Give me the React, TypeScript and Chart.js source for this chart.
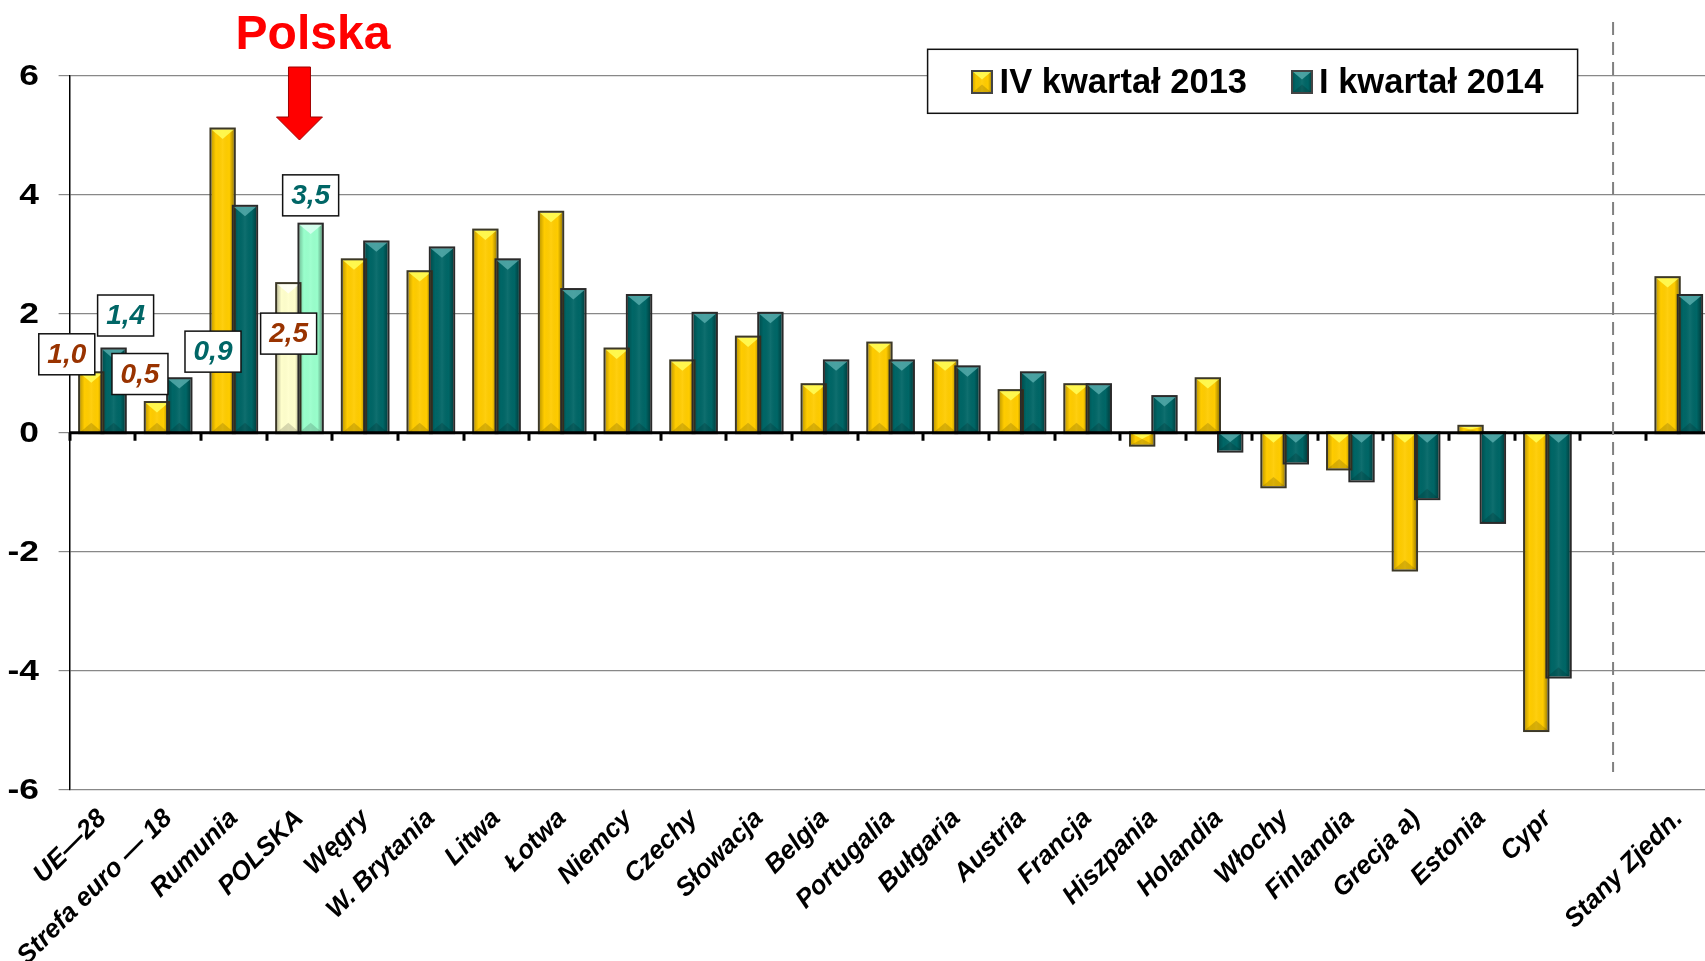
import React, { useEffect, useRef } from 'react';
import { Chart, registerables } from 'chart.js';

Chart.register(...registerables);

const categories = [
  'UE—28', 'Strefa euro — 18', 'Rumunia', 'POLSKA', 'Węgry', 'W. Brytania', 'Litwa', 'Łotwa',
  'Niemcy', 'Czechy', 'Słowacja', 'Belgia', 'Portugalia', 'Bułgaria', 'Austria', 'Francja',
  'Hiszpania', 'Holandia', 'Włochy', 'Finlandia', 'Grecja a)', 'Estonia', 'Cypr', '', 'Stany Zjedn.',
];
const q4_2013 = [1.0, 0.5, 5.1, 2.5, 2.9, 2.7, 3.4, 3.7, 1.4, 1.2, 1.6, 0.8, 1.5, 1.2, 0.7, 0.8, -0.2, 0.9, -0.9, -0.6, -2.3, 0.1, -5.0, null, 2.6];
const q1_2014 = [1.4, 0.9, 3.8, 3.5, 3.2, 3.1, 2.9, 2.4, 2.3, 2.0, 2.0, 1.2, 1.2, 1.1, 1.0, 0.8, 0.6, -0.3, -0.5, -0.8, -1.1, -1.5, -4.1, null, 2.3];
const seriesLabels = ['IV kwartał 2013', 'I kwartał 2014'];
const yMin = -6;
const yMax = 6;
const yStep = 2;
const highlightIndex = 3;
const separatorIndex = 23;
const calloutText = 'Polska';

// which bars get a boxed value label, and where the box sits relative to the bar end
const valueCallouts = [
  { series: 0, index: 0, dx: -24.5, dy: -19 },
  { series: 1, index: 0, dx: 12, dy: -34 },
  { series: 0, index: 1, dx: -17, dy: -29 },
  { series: 1, index: 1, dx: 33.7, dy: -27.6 },
  { series: 0, index: 3, dx: 0.3, dy: 49.5 },
  { series: 1, index: 3, dx: 0, dy: -29.3 },
];

const FONT = '"Liberation Sans", Arial, Helvetica, sans-serif';
const baseColors = ['#FFCC00', '#006666'];
const highlightColors = ['#FFFFCC', '#99FFCC'];
const bevelTop = ['rgba(255,255,90,0.85)', 'rgba(90,175,175,0.8)'];
const bevelTopLight = ['rgba(255,255,255,0.75)', 'rgba(225,255,245,0.8)'];
const labelTextColors = ['#993300', '#006666'];
const borderColors = ['#3c3826', '#2a2a2a'];

function bevel(ctx: CanvasRenderingContext2D, l: number, t: number, w: number, h: number, top: string) {
  if (w <= 0 || h <= 0) return;
  ctx.save();
  const g = ctx.createLinearGradient(l, 0, l + w, 0);
  g.addColorStop(0, 'rgba(0,0,0,0.22)');
  g.addColorStop(0.2, 'rgba(0,0,0,0)');
  g.addColorStop(0.5, 'rgba(255,255,255,0.06)');
  g.addColorStop(0.8, 'rgba(0,0,0,0)');
  g.addColorStop(1, 'rgba(0,0,0,0.35)');
  ctx.fillStyle = g;
  ctx.fillRect(l, t, w, h);
  const d = Math.min(w * 0.42, h / 2);
  ctx.fillStyle = top;
  ctx.beginPath();
  ctx.moveTo(l, t); ctx.lineTo(l + w, t); ctx.lineTo(l + w / 2, t + d); ctx.closePath();
  ctx.fill();
  ctx.fillStyle = 'rgba(0,0,0,0.15)';
  ctx.beginPath();
  ctx.moveTo(l, t + h); ctx.lineTo(l + w, t + h); ctx.lineTo(l + w / 2, t + h - d); ctx.closePath();
  ctx.fill();
  ctx.restore();
}

const fmt = (v: number) => v.toFixed(1).replace('.', ',');

const decorPlugin = {
  id: 'decor',
  afterDatasetsDraw(chart: any) {
    const ctx: CanvasRenderingContext2D = chart.ctx;
    const xs = chart.scales.x;
    const ys = chart.scales.y;
    const area = chart.chartArea;
    const cw = xs.width / categories.length;

    // bevel overlays and outer borders on bars
    chart.data.datasets.forEach((ds: any, di: number) => {
      const meta = chart.getDatasetMeta(di);
      meta.data.forEach((el: any, i: number) => {
        const v = ds.data[i];
        if (v == null) return;
        const p = el.getProps(['x', 'y', 'base', 'width'], true);
        const top = Math.min(p.y, p.base);
        const h = Math.abs(p.base - p.y);
        const l = p.x - p.width / 2;
        bevel(ctx, l, top, p.width, h, i === highlightIndex ? bevelTopLight[di] : bevelTop[di]);
        ctx.save();
        ctx.strokeStyle = borderColors[di];
        ctx.lineWidth = 2;
        ctx.strokeRect(l - 1, top - 1, p.width + 2, h + 2);
        ctx.restore();
      });
    });

    ctx.save();
    // zero line
    const y0 = ys.getPixelForValue(0);
    ctx.strokeStyle = '#000';
    ctx.lineWidth = 3;
    ctx.beginPath();
    ctx.moveTo(area.left, y0);
    ctx.lineTo(area.right, y0);
    ctx.stroke();
    // category tick marks
    for (let i = 0; i <= categories.length; i++) {
      const bx = Math.round(xs.getPixelForValue(i) - cw / 2);
      ctx.beginPath();
      ctx.moveTo(bx, y0);
      ctx.lineTo(bx, y0 + 8);
      ctx.stroke();
    }

    // y tick labels (slightly wide bold digits)
    ctx.fillStyle = '#000';
    ctx.font = `bold 29px ${FONT}`;
    ctx.textAlign = 'right';
    ctx.textBaseline = 'middle';
    ys.ticks.forEach((t: any) => {
      const ty = ys.getPixelForValue(t.value);
      ctx.save();
      ctx.translate(39, ty + 1);
      ctx.scale(1.22, 1);
      ctx.fillText(String(t.value), 0, 0);
      ctx.restore();
    });

    // dashed separator
    const sx = xs.getPixelForValue(separatorIndex);
    ctx.strokeStyle = '#808080';
    ctx.lineWidth = 2;
    ctx.setLineDash([13, 7]);
    ctx.beginPath();
    ctx.moveTo(sx, 22);
    ctx.lineTo(sx, 772);
    ctx.stroke();
    ctx.setLineDash([]);

    // boxed value labels
    valueCallouts.forEach((c) => {
      const el = chart.getDatasetMeta(c.series).data[c.index];
      const v = chart.data.datasets[c.series].data[c.index];
      if (!el || v == null) return;
      const cx = el.x + c.dx;
      const cy = el.y + c.dy;
      const bw = 56, bh = 41;
      ctx.fillStyle = '#fff';
      ctx.fillRect(cx - bw / 2, cy - bh / 2, bw, bh);
      ctx.strokeStyle = '#111';
      ctx.lineWidth = 1.5;
      ctx.strokeRect(cx - bw / 2, cy - bh / 2, bw, bh);
      ctx.fillStyle = labelTextColors[c.series];
      ctx.font = `italic bold 28px ${FONT}`;
      ctx.textAlign = 'center';
      ctx.textBaseline = 'middle';
      ctx.fillText(fmt(v), cx, cy + 1);
    });

    // "Polska" callout with arrow
    const px = xs.getPixelForValue(highlightIndex);
    ctx.fillStyle = '#FF0000';
    ctx.font = `bold 48px ${FONT}`;
    ctx.textAlign = 'center';
    ctx.textBaseline = 'alphabetic';
    ctx.fillText(calloutText, px + 13.5, 49);
    ctx.beginPath();
    ctx.moveTo(px - 11, 67);
    ctx.lineTo(px + 11, 67);
    ctx.lineTo(px + 11, 117);
    ctx.lineTo(px + 23, 117);
    ctx.lineTo(px, 140);
    ctx.lineTo(px - 23, 117);
    ctx.lineTo(px - 11, 117);
    ctx.closePath();
    ctx.fillStyle = '#FF0000';
    ctx.fill();
    ctx.strokeStyle = '#A00000';
    ctx.lineWidth = 1;
    ctx.stroke();

    // legend
    const lx = 927.6, ly = 49.3, lw = 650, lh = 64;
    ctx.fillStyle = '#fff';
    ctx.fillRect(lx, ly, lw, lh);
    ctx.strokeStyle = '#111';
    ctx.lineWidth = 1.5;
    ctx.strokeRect(lx, ly, lw, lh);
    const items = [
      { mx: 972, tx: 999.6 },
      { mx: 1292, tx: 1319 },
    ];
    items.forEach((it, i) => {
      ctx.fillStyle = baseColors[i];
      ctx.fillRect(it.mx, 71, 20, 22);
      bevel(ctx, it.mx, 71, 20, 22, bevelTop[i]);
      ctx.strokeStyle = '#444';
      ctx.lineWidth = 2;
      ctx.strokeRect(it.mx, 71, 20, 22);
      ctx.fillStyle = '#000';
      ctx.font = `bold 34.5px ${FONT}`;
      ctx.textAlign = 'left';
      ctx.textBaseline = 'alphabetic';
      ctx.fillText(chart.data.datasets[i].label, it.tx, 93);
    });
    ctx.restore();
  },
};

export default function App() {
  const ref = useRef<HTMLCanvasElement>(null);
  useEffect(() => {
    if (!ref.current) return;
    const mk = (data: (number | null)[], si: number) => ({
      label: seriesLabels[si],
      data,
      backgroundColor: data.map((_, i) => (i === highlightIndex ? highlightColors[si] : baseColors[si])),
      borderWidth: 0,
      categoryPercentage: 0.68,
      barPercentage: 1.0,
    });
    const chart = new Chart(ref.current, {
      type: 'bar',
      data: {
        labels: categories,
        datasets: [mk(q4_2013, 0), mk(q1_2014, 1)],
      },
      options: {
        responsive: false,
        animation: false,
        devicePixelRatio: 1,
        layout: { padding: { top: 76, left: 0, right: 8.4, bottom: 0 } },
        plugins: {
          legend: { display: false },
          tooltip: { enabled: false },
          title: { display: false },
        },
        scales: {
          x: {
            type: 'category',
            offset: true,
            grid: { display: false, drawTicks: false },
            border: { display: false },
            ticks: {
              autoSkip: false,
              maxRotation: 45,
              minRotation: 45,
              padding: 14,
              color: '#000',
              font: { family: FONT, size: 26, weight: 'bold', style: 'italic' },
            },
            afterFit: (s: any) => { s.height = 171.5; },
          },
          y: {
            min: yMin,
            max: yMax,
            ticks: {
              stepSize: yStep,
              padding: 19,
              color: 'rgba(0,0,0,0)',
              font: { family: FONT, size: 29, weight: 'bold' },
            },
            grid: { color: '#888', lineWidth: 1.2, tickLength: 11, drawTicks: true },
            border: { color: '#000', width: 1.5 },
            afterFit: (s: any) => { s.width = 69.6; },
          },
        },
      } as any,
      plugins: [decorPlugin],
    });
    return () => chart.destroy();
  }, []);
  return (
    <div style={{ position: 'fixed', left: 0, top: 0, width: 1705, height: 961, overflow: 'hidden', background: '#fff' }}>
      <canvas ref={ref} width={1720} height={961} style={{ display: 'block' }} />
    </div>
  );
}
